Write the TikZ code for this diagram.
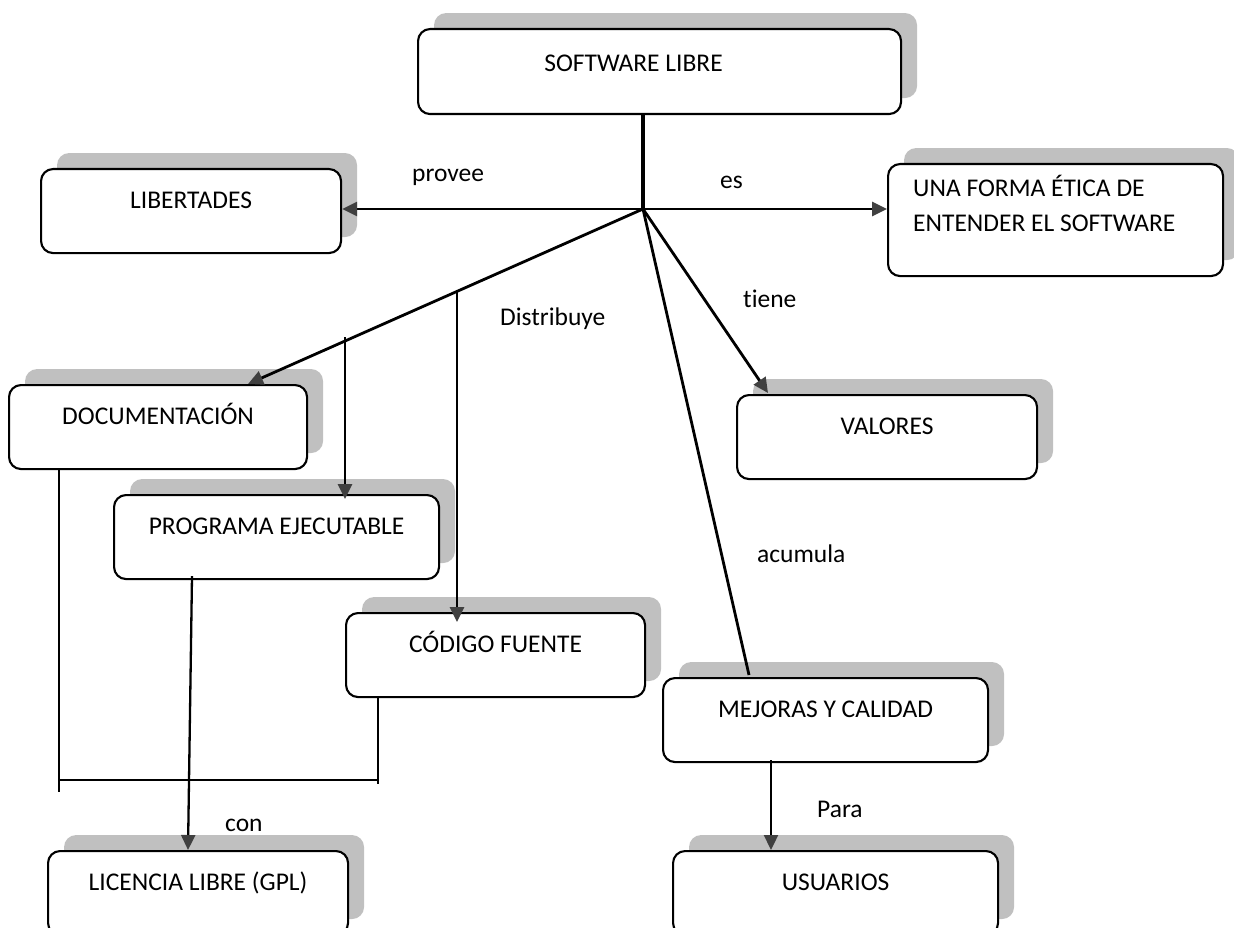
\documentclass[tikz,border=0pt]{standalone}
\usepackage{fontspec}
\setmainfont{Carlito}[Ligatures=NoCommon]
\usetikzlibrary{arrows.meta,shadows,calc}
\definecolor{shadowgray}{HTML}{C0C0C0}
\definecolor{tipgray}{HTML}{404040}
\begin{document}
\begin{tikzpicture}[x=1pt,y=-1pt,
  txt/.style={font=\fontsize{25.5}{30}\selectfont, inner sep=0pt, text=black},
  box/.style={txt, draw=black, line width=2.1pt, rounded corners=12pt, fill=white,
    general shadow={fill=shadowgray, shadow xshift=16pt, shadow yshift=16pt},
    anchor=north west, text height=39pt, text depth=45pt},
  link/.style={line width=2.8pt, line cap=butt},
  arr/.style={link, -{Triangle[length=15pt,width=14pt,color=tipgray]}},
  thinarr/.style={line width=2.3pt, -{Triangle[length=15pt,width=14pt,color=tipgray]}},
  bracket/.style={line width=2.2pt},
  lbl/.style={txt, anchor=base west}]

\path[use as bounding box] (0,0) rectangle (1234,928);
\clip (0,0) rectangle (1234,928);

% concept boxes
\node[box, minimum width=483pt, text height=42pt, text depth=43pt] (sl) at (417,28) {SOFTWARE LIBRE\hspace*{52pt}};
\node[box, minimum width=300pt] (lib) at (40,168) {LIBERTADES};
\node[box, minimum width=335pt, text height=112pt, text depth=0pt] (una) at (887,163) {};
\node[lbl] (una1) at (913,197) {UNA FORMA ÉTICA DE};
\node[lbl] (una2) at (913,232) {ENTENDER EL SOFTWARE};
\node[box, minimum width=298pt] (doc) at (8,384) {DOCUMENTACIÓN};
\node[box, minimum width=325pt] (prog) at (113,494) {PROGRAMA EJECUTABLE};
\node[box, minimum width=299pt] (cod) at (345,612) {CÓDIGO FUENTE};
\node[box, minimum width=300pt] (val) at (736,394) {VALORES};
\node[box, minimum width=325pt] (mej) at (662,677) {MEJORAS Y CALIDAD};
\node[box, minimum width=325pt] (usu) at (672,850) {USUARIOS};
\node[box, minimum width=300pt] (lic) at (47,850) {LICENCIA LIBRE (GPL)};

% junction points
\coordinate (hub) at (643,209);
\coordinate (dist) at (457,291);
\coordinate (pstart) at (345,337);
\coordinate (bl) at (59,780);
\coordinate (blend) at (59,792);
\coordinate (br) at (378,780);
\coordinate (brend) at (378,784);

% connectors
\draw[link, line width=3.2pt] (hub |- sl.south) -- (hub);
\draw[arr] (hub) -- (hub -| lib.east);
\draw[arr] (hub) -- (hub -| una.west);
\draw[arr] (hub) -- ($(doc.north west)+(240,0)$);
\draw[arr] (dist) -- ($(dist |- cod.north)+(0,10)$);
\draw[arr] (pstart) -- ($(pstart |- prog.north)+(0,5)$);
\draw[arr] (hub) -- ($(val.north west)+(32,-1)$);
\draw[link] (hub) -- ($(mej.north west)+(87,-2)$);
\draw[thinarr] ($(mej.south west)+(109,-3)$) -- ($(usu.north west)+(99,0)$);
\draw[bracket] ($(doc.south west)+(51,0)$) -- (blend);
\draw[bracket] (bl) -- (br);
\draw[bracket] (cod.south -| br) -- (brend);
\draw[thinarr] ($(prog.south west)+(79,-4)$) -- ($(lic.north west)+(141,0)$);

% connector labels
\node[lbl] (provee) at (412,182) {provee};
\node[lbl] (es) at (720,189) {es};
\node[lbl] (distribuye) at (500,325) {Distribuye};
\node[lbl] (tiene) at (743,307) {tiene};
\node[lbl] (acumula) at (757,562) {acumula};
\node[lbl] (con) at (225,831) {con};
\node[lbl] (para) at (817,817) {Para};
\end{tikzpicture}
\end{document}
